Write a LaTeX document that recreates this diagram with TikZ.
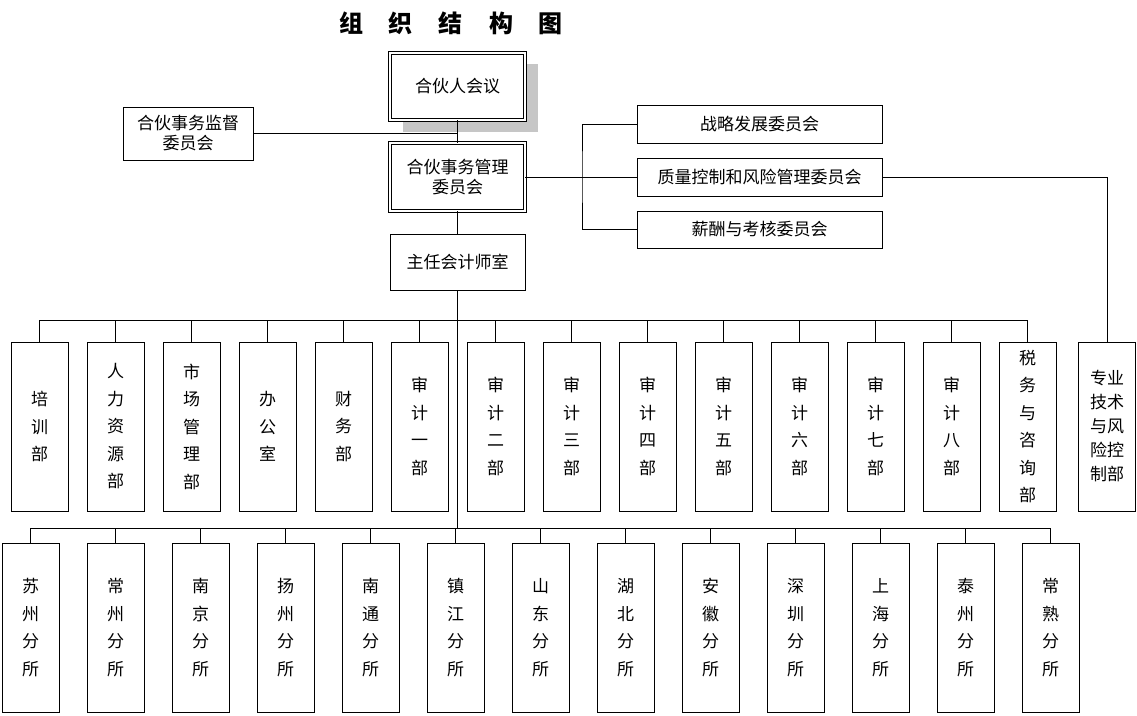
\documentclass[tikz,border=0pt]{standalone}
\usepackage{fontspec}
\setmainfont{Noto Sans CJK SC}
\begin{document}
\begin{tikzpicture}[x=1pt,y=-1pt,
 box/.style={draw,line width=1pt,inner sep=0pt,font=\fontsize{17}{20}\selectfont,align=center},
 dbox/.style={box,double,double distance=1.5pt,line width=0.8pt},
 vbox/.style={draw,line width=1pt,inner sep=0pt,minimum width=57pt,minimum height=169pt,font=\fontsize{17}{27.5}\selectfont,align=center},
 ln/.style={line width=1pt}]
\useasboundingbox (0,0) rectangle (1137,715);
\node[font=\bfseries\fontsize{24}{26}\selectfont] (title) at (451,23) {组\hspace{26pt}织\hspace{26pt}结\hspace{26pt}构\hspace{26pt}图};
\fill[gray!45] (403,64) rectangle (538,132);
\node[dbox,fill=white,minimum width=135pt,minimum height=67pt] (hh) at (457.5,86.5) {合伙人会议};
\node[box,minimum width=130pt,minimum height=53pt] (jd) at (188,133.5) {合伙事务监督\\委员会};
\node[dbox,fill=white,minimum width=135pt,minimum height=68pt] (gl) at (457.5,177) {合伙事务管理\\委员会};
\node[box,minimum width=135pt,minimum height=56pt] (zr) at (457.5,262) {主任会计师室};
\node[box,minimum width=245pt,minimum height=38pt] (c1) at (759.5,124) {战略发展委员会};
\node[box,minimum width=245pt,minimum height=38pt] (c2) at (759.5,177) {质量控制和风险管理委员会};
\node[box,minimum width=245pt,minimum height=37pt] (c3) at (759.5,229.5) {薪酬与考核委员会};
\node[vbox,font=\fontsize{17}{24}\selectfont] (zy) at (1107,426.5) {专业\\技术\\与风\\险控\\制部};
\draw[ln] (hh.south) -- (gl.north);
\draw[ln] (jd.east) -- (457.5,133.5);
\draw[ln] (gl.south) -- (zr.north);
\draw[ln] (gl.east) -- (582,177);
\draw[ln] (c1.west) -| (582,177) |- (c3.west);
\draw[ln] (582,177) -- (c2.west);
\draw[ln] (c2.east) -| (zy.north);
\coordinate (t1) at (457.5,320);
\coordinate (t2) at (457.5,528);
\draw[ln] (zr.south) -- (t2);
\draw[ln] (39.5,320) -- (1027.5,320);
\draw[ln] (30.5,528) -- (1050.5,528);
\foreach \t [count=\i from 0] in {培\\训\\部,人\\力\\资\\源\\部,市\\场\\管\\理\\部,办\\公\\室,财\\务\\部,审\\计\\一\\部,审\\计\\二\\部,审\\计\\三\\部,审\\计\\四\\部,审\\计\\五\\部,审\\计\\六\\部,审\\计\\七\\部,审\\计\\八\\部,税\\务\\与\\咨\\询\\部}{
  \node[vbox] (a\i) at (39.5+76*\i,426.5) {\t};
  \draw[ln] (39.5+76*\i,320) -- (a\i.north);
}
\foreach \t [count=\i from 0] in {苏\\州\\分\\所,常\\州\\分\\所,南\\京\\分\\所,扬\\州\\分\\所,南\\通\\分\\所,镇\\江\\分\\所,山\\东\\分\\所,湖\\北\\分\\所,安\\徽\\分\\所,深\\圳\\分\\所,上\\海\\分\\所,泰\\州\\分\\所,常\\熟\\分\\所}{
  \node[vbox] (b\i) at (30.5+85*\i,627.5) {\t};
  \draw[ln] (30.5+85*\i,528) -- (b\i.north);
}
\end{tikzpicture}
\end{document}
